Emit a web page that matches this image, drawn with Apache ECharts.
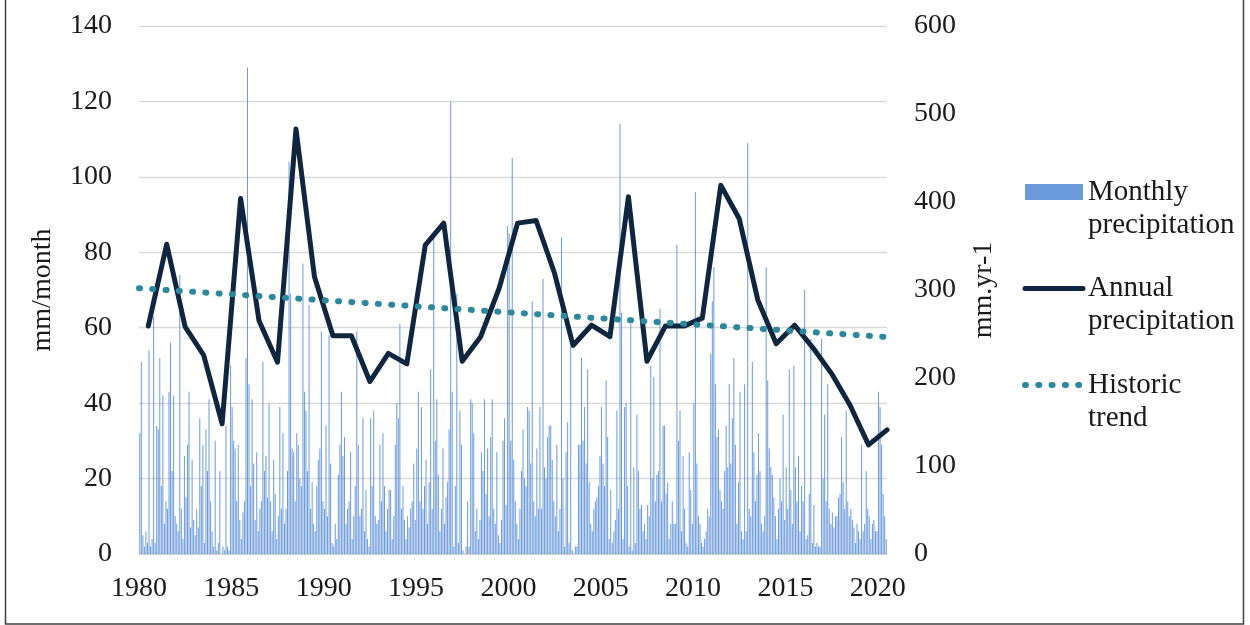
<!DOCTYPE html>
<html><head><meta charset="utf-8">
<script src="https://cdn.jsdelivr.net/npm/echarts@6/dist/echarts.min.js"></script>
<style>html,body{margin:0;padding:0;background:#fff}#c{width:1250px;height:625px}</style>
</head><body><div id="c"></div>
<script>
// ---- data ----
const firstYear = 1980;
const xTickYears = [1980, 1985, 1990, 1995, 2000, 2005, 2010, 2015, 2020];

// Monthly precipitation (mm/month), Jan 1980 .. Jun 2020
const monthly1980s = [
  32,51,5,2,6,3,54,2,4,63,3,34,
  33,52,18,42,8,14,12,43,56,22,42,10,
  8,6,74,12,4,26,15,29,43,7,25,9,
  5,12,7,36,18,29,3,33,22,41,14,6,
  2,30,1,3,22,0,2,1,34,2,1,50,
  39,30,28,14,29,9,4,11,14,52,129,45,
  18,41,24,9,27,6,12,14,51,22,26,15,
  40,14,6,25,16,4,10,39,12,32,8,12,
  22,104,69,28,27,14,32,29,20,18,77,43,
  38,22,66,12,19,8,6,18,25,28,59,14
];
const monthly1990s = [
  12,34,10,58,24,3,2,8,4,21,29,43,
  26,31,8,12,14,27,4,10,18,59,29,10,
  12,36,6,17,4,2,36,18,38,10,8,9,
  29,14,32,18,6,12,17,17,4,10,29,40,
  36,61,12,18,9,4,10,7,12,14,24,9,
  28,43,14,39,12,18,25,8,19,49,12,84,
  30,41,21,6,12,28,8,15,19,33,120,43,
  2,18,69,3,38,29,1,0,2,14,2,41,
  40,32,6,12,4,9,27,22,41,16,28,10,
  31,41,12,8,27,5,3,9,30,36,13,87
];
const monthly2000s = [
  85,30,105,25,14,8,4,12,22,33,20,18,
  39,38,24,67,14,10,28,12,39,12,73,23,
  20,31,34,34,25,14,10,29,6,12,84,20,
  2,27,35,3,55,1,0,2,2,29,29,52,
  30,39,24,49,19,8,6,12,14,15,18,26,
  39,24,18,46,31,4,17,3,6,9,38,12,
  114,64,4,39,40,18,2,61,1,23,3,37,
  22,12,13,6,8,4,13,10,50,20,47,14,
  21,22,65,14,34,34,16,19,4,8,14,8,
  8,82,30,38,6,26,12,3,2,27,17,8
];
const monthly2010s = [
  40,96,24,10,8,3,2,4,6,12,10,53,
  67,76,45,31,33,17,14,12,22,34,23,45,
  24,36,52,29,8,19,43,6,4,45,6,109,
  12,10,51,27,14,21,32,22,8,6,10,76,
  46,28,23,21,15,10,4,12,20,14,37,9,
  23,12,49,17,8,50,23,14,26,6,18,14,
  70,4,5,16,57,3,13,2,3,2,2,57,
  20,37,14,45,12,8,11,7,10,10,15,16,
  31,19,12,38,14,10,12,9,7,3,8,6,
  4,29,6,8,22,12,10,4,8,9,6,6
];
const monthly2020s = [43,39,29,16,10,4];

// Annual precipitation (mm.yr-1), 1980 .. 2020
const annualPrecip = [
  259,352,258,226,148,404,265,218,483,315,
  248,248,196,228,216,351,376,219,247,302,
  376,379,319,237,260,247,406,219,259,259,
  268,419,381,289,239,260,234,205,169,124,
  141
];

// Historic trend (mm.yr-1) at the start and end of the record
const trendEnds = [302, 246.6];

// Series names
const names = ['Monthly\nprecipitation', 'Annual\nprecipitation', 'Historic\ntrend'];

// ---- build ----
const monthly = [].concat(monthly1980s, monthly1990s, monthly2000s, monthly2010s, monthly2020s);
const nMonths = monthly.length;
const barData = monthly.map((v, i) => [i + 0.5, v]);
const annualData = annualPrecip.map((v, i) => [12 * i + 6, v]);
const trendData = [[0, trendEnds[0]], [nMonths, trendEnds[1]]];
const tickMonths = xTickYears.map(y => (y - firstYear) * 12);

const FONT = '"Liberation Serif", "DejaVu Serif", serif';
const C_BAR = '#5b8fd6', C_LINE = '#10263f', C_TREND = '#2f879b';
const hidden = {color: 'rgba(0,0,0,0)', borderWidth: 0, opacity: 0};
const annualStyle = {color: C_LINE, width: 5, type: 'solid', cap: 'round', join: 'round'};
const trendStyle = {color: C_TREND, width: 6, type: [1, 12.3], cap: 'round'};

const chart = echarts.init(document.getElementById('c'), null, {renderer: 'canvas'});
chart.setOption({
  animation: false,
  backgroundColor: '#ffffff',
  textStyle: {fontFamily: FONT},
  grid: {left: 139, right: 363, top: 26, bottom: 71, containLabel: false},
  graphic: [{
    type: 'rect', silent: true,
    shape: {x: 5.5, y: -2, width: 1238, height: 626},
    style: {fill: 'none', stroke: '#3f3f3f', lineWidth: 1.5}
  }],
  legend: {
    orient: 'vertical', left: 1022, top: 142.5, padding: 0,
    itemWidth: 58, itemHeight: 16, itemGap: -2.5,
    textStyle: {fontFamily: FONT, fontSize: 29, color: '#1a1a1a', lineHeight: 33},
    formatter: n => '\n' + n,
    data: [
      {name: names[0], icon: 'rect'},
      {name: names[1], itemStyle: hidden, lineStyle: annualStyle},
      {name: names[2], itemStyle: hidden, lineStyle: trendStyle}
    ]
  },
  xAxis: {
    type: 'value', min: 0, max: nMonths, interval: 60,
    axisLine: {show: true, lineStyle: {color: '#d9d9d9', width: 1.5}},
    axisTick: {show: false},
    splitLine: {show: false},
    axisLabel: {
      margin: 21, fontSize: 28, color: '#1a1a1a', fontFamily: FONT,
      showMaxLabel: false,
      formatter: v => tickMonths.indexOf(v) >= 0 ? String(firstYear + v / 12) : ''
    }
  },
  yAxis: [{
    type: 'value', min: 0, max: 140, interval: 20,
    name: 'mm/month', nameLocation: 'middle', nameRotate: 90, nameGap: 82,
    nameTextStyle: {fontSize: 28, color: '#1a1a1a', fontFamily: FONT},
    axisLine: {show: false}, axisTick: {show: false},
    splitLine: {lineStyle: {color: '#d9d9d9', width: 1.3}},
    axisLabel: {margin: 27, fontSize: 28, color: '#1a1a1a', fontFamily: FONT}
  }, {
    type: 'value', min: 0, max: 600, interval: 100,
    name: 'mm.yr-1', nameLocation: 'middle', nameRotate: 90, nameGap: 83,
    nameTextStyle: {fontSize: 28, color: '#1a1a1a', fontFamily: FONT},
    axisLine: {show: false}, axisTick: {show: false},
    splitLine: {show: false},
    axisLabel: {margin: 27, fontSize: 28, color: '#1a1a1a', fontFamily: FONT}
  }],
  series: [{
    name: names[0], type: 'bar', xAxisIndex: 0, yAxisIndex: 0,
    data: barData, barWidth: 1,
    itemStyle: {color: C_BAR, opacity: 0.9}
  }, {
    name: names[1], type: 'line', yAxisIndex: 1,
    data: annualData, symbol: 'none',
    lineStyle: annualStyle,
    itemStyle: {color: C_LINE}
  }, {
    name: names[2], type: 'line', yAxisIndex: 1,
    data: trendData, symbol: 'none',
    lineStyle: trendStyle,
    itemStyle: {color: C_TREND}
  }]
});
</script></body></html>
